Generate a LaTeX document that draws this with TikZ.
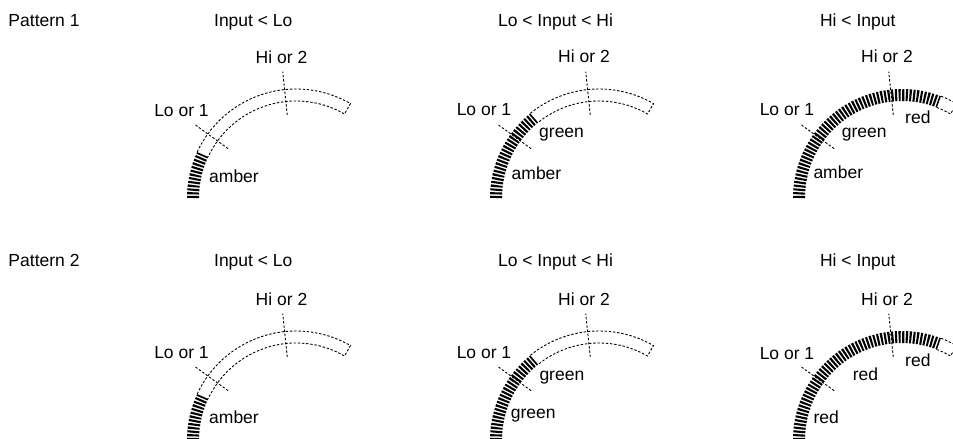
\documentclass[tikz,border=0pt]{standalone}
\usepackage{fontspec}
\setmainfont{Liberation Sans}
\newcommand\lbfont{\fontsize{17.5}{20}\selectfont}
\tikzset{
  litband/.style={line width=12pt, dash pattern=on 2.1pt off 1.5pt},
  outlineband/.style={line width=0.9pt, dash pattern=on 2.4pt off 1.8pt},
  tickline/.style={line width=0.9pt, dash pattern=on 2.4pt off 1.8pt},
  lbl/.style={font=\lbfont, inner sep=0pt, anchor=base west},
  lblc/.style={font=\lbfont, inner sep=0pt, anchor=base},
}
\newcommand\gaugeband[1]{%
  \draw[litband] (180:103) arc[start angle=180, end angle=#1, radius=103];
  \draw[outlineband] (#1:109) arc[start angle=#1, end angle=60, radius=109]
     -- (60:97) arc[start angle=60, end angle=#1, radius=97];
  \draw[tickline] (144:84) -- (144:126);
  \draw[tickline] (96:83.5) -- (96:127);
}
\begin{document}
\begin{tikzpicture}[x=1pt,y=1pt]
\useasboundingbox (0,0) rectangle (953,439);
% titles
\node[lbl] (p1) at (8.3,412.3) {Pattern 1};
\node[lbl] (p2) at (8.3,172.3) {Pattern 2};
\node[lblc] (t11) at (253.3,412.3) {Input < Lo};
\node[lblc] (t12) at (555.5,412.3) {Lo < Input < Hi};
\node[lblc] (t13) at (857.8,412.3) {Hi < Input};
\node[lblc] (t21) at (253.3,172.3) {Input < Lo};
\node[lblc] (t22) at (555.5,172.3) {Lo < Input < Hi};
\node[lblc] (t23) at (857.8,172.3) {Hi < Input};
% row 1
\begin{scope}[shift={(296,241)}]
  \gaugeband{155}
  \node[lblc] (hi11) at (-14.5,134.5) {Hi or 2};
  \node[lblc] (lo11) at (-114.5,81.5) {Lo or 1};
  \node[lbl] (a11) at (-87,15.5) {amber};
\end{scope}
\begin{scope}[shift={(599,241)}]
  \gaugeband{129}
  \node[lblc] (hi12) at (-15,135) {Hi or 2};
  \node[lblc] (lo12) at (-115,82) {Lo or 1};
  \node[lbl] (g12) at (-60,60.3) {green};
  \node[lbl] (a12) at (-87.5,18.7) {amber};
\end{scope}
\begin{scope}[shift={(902,241)}]
  \gaugeband{69}
  \node[lblc] (hi13) at (-15,135) {Hi or 2};
  \node[lblc] (lo13) at (-115,82) {Lo or 1};
  \node[lbl] (g13) at (-60.3,60.7) {green};
  \node[lbl] (r13) at (3,74.7) {red};
  \node[lbl] (a13) at (-88.7,19.7) {amber};
\end{scope}
% row 2
\begin{scope}[shift={(296,-1)}]
  \gaugeband{155}
  \node[lblc] (hi21) at (-14.5,134) {Hi or 2};
  \node[lblc] (lo21) at (-114.5,81) {Lo or 1};
  \node[lbl] (a21) at (-87,16.7) {amber};
\end{scope}
\begin{scope}[shift={(599,-1)}]
  \gaugeband{129}
  \node[lblc] (hi22) at (-15,134) {Hi or 2};
  \node[lblc] (lo22) at (-115,81) {Lo or 1};
  \node[lbl] (g22) at (-59.7,59) {green};
  \node[lbl] (g22b) at (-88.3,21.7) {green};
\end{scope}
\begin{scope}[shift={(902,-1)}]
  \gaugeband{69}
  \node[lblc] (hi23) at (-15,134) {Hi or 2};
  \node[lblc] (lo23) at (-115,80.7) {Lo or 1};
  \node[lbl] (r23a) at (3,73.3) {red};
  \node[lbl] (r23b) at (-49.3,59) {red};
  \node[lbl] (r23c) at (-88.7,16.7) {red};
\end{scope}
\end{tikzpicture}
\end{document}
